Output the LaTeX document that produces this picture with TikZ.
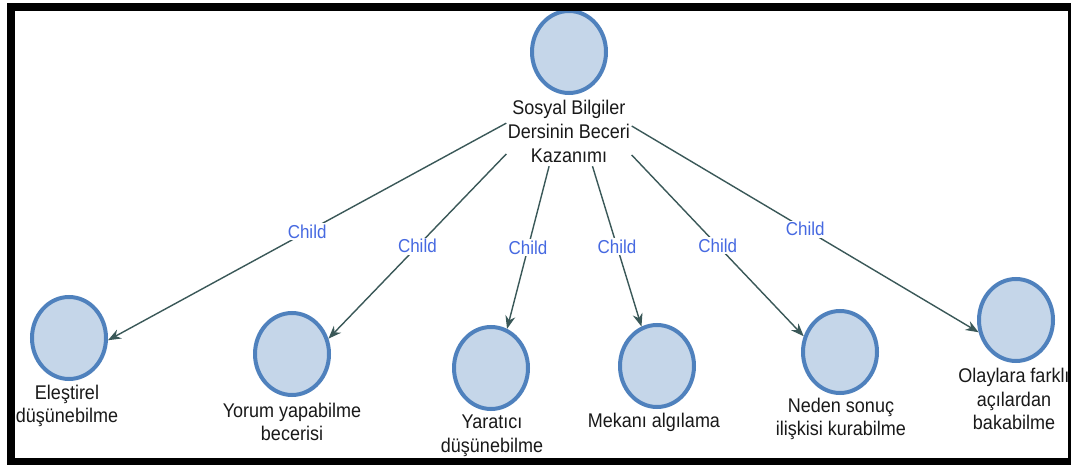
\documentclass[tikz,border=0pt]{standalone}
\usepackage{fontspec}
\setmainfont{Liberation Sans}
\usetikzlibrary{shapes.geometric,arrows.meta,intersections}
\definecolor{nodefill}{RGB}{197,214,233}
\definecolor{nodeline}{RGB}{79,129,189}
\definecolor{edgecol}{RGB}{58,88,88}
\definecolor{childblue}{RGB}{70,105,225}
\definecolor{txt}{RGB}{25,25,25}
\begin{document}
\begin{tikzpicture}[x=1pt,y=-1pt,
  bubble/.style={ellipse, draw=nodeline, fill=nodefill, line width=4pt, minimum width=74pt, minimum height=82pt, inner sep=0pt},
  lbl/.style={font=\fontsize{18}{21.5}\selectfont, text=txt, align=center, inner sep=0pt, yscale=1.1},
  rootbox/.style={rectangle, minimum width=125pt, minimum height=154pt, inner sep=0pt},
  edge/.style={draw=edgecol, line width=1.4pt, -{Stealth[length=13pt,width=10pt]}},
  childlbl/.style={font=\fontsize{17}{20}\selectfont, text=childblue, fill=white, inner sep=1.5pt, yscale=1.1},
]
\useasboundingbox (0,0) rectangle (1071,465);
\fill[white] (0,0) rectangle (1071,465);

% root
\node[rootbox] (root) at (569,89) {};
\node[bubble] (c0) at (569,52) {};
\node[lbl] (l0) at (569,131.5) {Sosyal Bilgiler\\Dersinin Beceri\\Kazanımı};

% children
\node[bubble] (c1) at (69,338) {};
\node[lbl] (l1) at (67,406) {Eleştirel\\düşünebilme};
\node[bubble] (c2) at (292,354) {};
\node[lbl] (l2) at (292,422) {Yorum yapabilme\\becerisi};
\node[bubble] (c3) at (491,368) {};
\node[lbl] (l3) at (492,436) {Yaratıcı\\düşünebilme};
\node[bubble] (c4) at (657,366) {};
\node[lbl] (l4) at (654,422) {Mekanı algılama};
\node[bubble] (c5) at (840,352) {};
\node[lbl] (l5) at (841,419) {Neden sonuç\\ilişkisi kurabilme};
\node[bubble] (c6) at (1016,320) {};
\node[lbl] (l6) at (1014,399) {Olaylara farklı\\açılardan\\bakabilme};

% connectors
\foreach \i/\bx/\by in {1/69/361.5, 2/292/376.5, 3/491/391, 4/657/377.5, 5/840/374.5, 6/1016/354.5}{
  \coordinate (b\i) at (\bx,\by);
  \path[name path=e\i-l] (c\i.center) ellipse [x radius=39pt, y radius=43pt];
  \path[name path=p\i-l] (root.center) -- (b\i);
  \path[name intersections={of=p\i-l and e\i-l, by=t\i}];
  \draw[edge] (root) -- node[childlbl] {Child} (t\i);
}

% frame
\draw[line width=8pt] (11,7) rectangle (1072,462);
\end{tikzpicture}
\end{document}
